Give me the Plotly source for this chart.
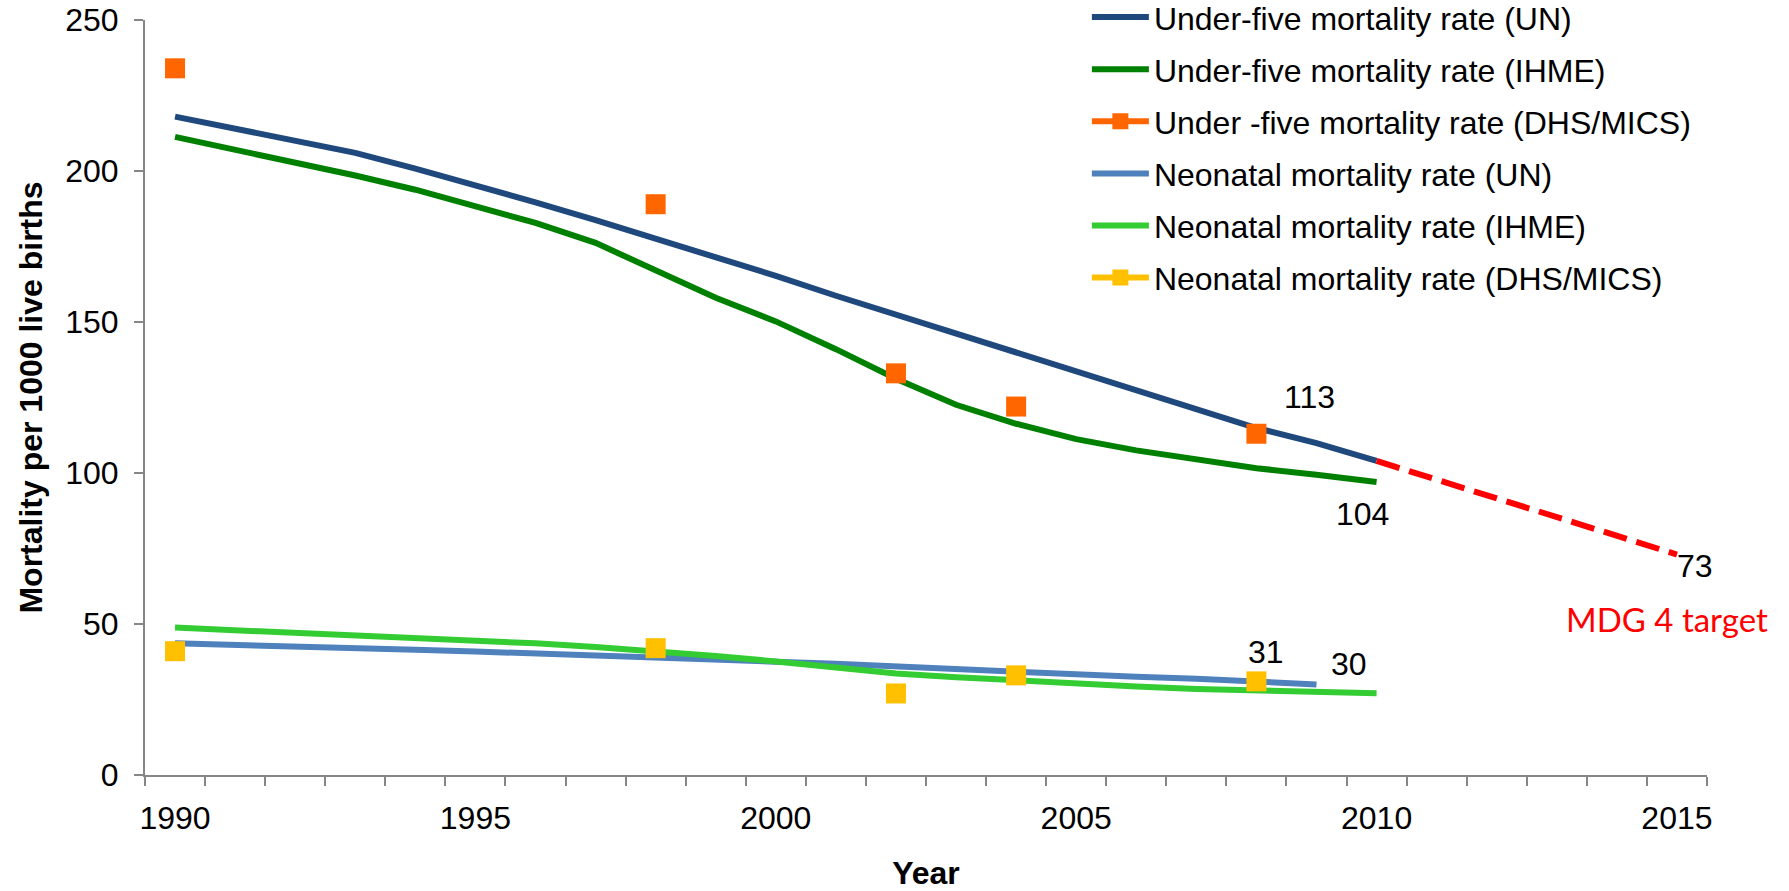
import plotly.graph_objects as go

# Years covered by the modelled series
years = list(range(1990, 2011))

# Under-five mortality per 1000 live births
u5_un = [218.0, 214.0, 210.4, 206.0, 200.8, 195.3, 189.6, 183.7, 177.6, 171.2, 165.3,
         158.7, 152.4, 146.3, 139.9, 133.6, 127.3, 121.2, 114.9, 109.9, 104.0]
u5_ihme = [211.3, 207.1, 202.9, 198.5, 193.8, 188.5, 182.8, 176.2, 167.3, 158.0, 150.2,
           141.0, 131.2, 122.6, 116.3, 111.2, 107.5, 104.4, 101.6, 99.4, 97.0]
# Survey estimates (None where no survey was run)
u5_dhs = [234, None, None, None, None, None, None, None, 189, None, None,
          None, 133, None, 122, None, None, None, 113, None, None]

# Neonatal mortality per 1000 live births
neo_un = [43.6, 43.2, 42.7, 42.2, 41.5, 40.9, 40.3, 39.6, 38.8, 38.2, 37.5,
          36.8, 35.9, 35.0, 34.1, 33.3, 32.5, 31.9, 31.1, 30.0, None]
neo_ihme = [48.8, 48.0, 47.2, 46.4, 45.5, 44.6, 43.6, 42.4, 41.0, 39.4, 37.6,
            35.6, 33.6, 32.4, 31.3, 30.2, 29.3, 28.5, 28.0, 27.5, 27.1]
neo_dhs = [41, None, None, None, None, None, None, None, 42, None, None,
           None, 27, None, 33, None, None, None, 31, None, None]

# MDG 4 trajectory from the 2010 level to the 2015 target
target_years = [2010, 2015]
target_vals = [104, 73]

x_labels = [1990, 1995, 2000, 2005, 2010, 2015]
y_ticks = [0, 50, 100, 150, 200, 250]

FONT = "Liberation Sans, Arial, sans-serif"
AXIS_GREY = "#868686"
LINE_W = 6

fig = go.Figure()

def line_trace(y, name, color, rank):
    return go.Scatter(x=years, y=y, name=name, mode="lines", legendrank=rank,
                      legendgroup=f"g{rank}",
                      line=dict(color=color, width=LINE_W))

def survey_trace(y, name, color, rank):
    return go.Scatter(x=years, y=y, name=name, mode="lines+markers", legendrank=rank,
                      legendgroup=f"g{rank}", connectgaps=False,
                      line=dict(color=color, width=LINE_W),
                      marker=dict(symbol="square", size=20, color=color))

fig.add_trace(line_trace(u5_un, "Under-five mortality rate (UN)", "#1F497D", 1))
fig.add_trace(line_trace(u5_ihme, "Under-five mortality rate (IHME)", "#008000", 2))
fig.add_trace(line_trace(neo_un, "Neonatal mortality rate (UN)", "#4F81BD", 4))
fig.add_trace(line_trace(neo_ihme, "Neonatal mortality rate (IHME)", "#33CC33", 5))
fig.add_trace(go.Scatter(x=target_years, y=target_vals, mode="lines", showlegend=False,
                         line=dict(color="#FF0000", width=LINE_W, dash="24px,10px")))
fig.add_trace(survey_trace(u5_dhs, "Under -five mortality rate (DHS/MICS)", "#FF6600", 3))
fig.add_trace(survey_trace(neo_dhs, "Neonatal mortality rate (DHS/MICS)", "#FFC000", 6))

# Value labels
lab = dict(showarrow=False, font=dict(family=FONT, size=32, color="black"))
fig.add_annotation(x=2008, y=u5_dhs[years.index(2008)], text=str(u5_dhs[years.index(2008)]),
                   xshift=53, yshift=37, **lab)
fig.add_annotation(x=2010, y=u5_un[-1], text=str(int(u5_un[-1])), xshift=-14, yshift=-53, **lab)
fig.add_annotation(x=target_years[-1], y=target_vals[-1], text=str(target_vals[-1]),
                   xshift=18, yshift=-11, **lab)
fig.add_annotation(x=2008, y=neo_dhs[years.index(2008)], text=str(neo_dhs[years.index(2008)]),
                   xshift=10, yshift=29, **lab)
fig.add_annotation(x=2009, y=neo_un[years.index(2009)], text=str(int(neo_un[years.index(2009)])),
                   xshift=32, yshift=20, **lab)
fig.add_annotation(x=target_years[-1], y=target_vals[-1], text="MDG 4 target", showarrow=False,
                   xshift=-10, yshift=-64,
                   font=dict(family="Lato, Carlito, Calibri, sans-serif", size=33, color="#FF0000"))

fig.update_layout(
    width=1789, height=891,
    margin=dict(l=145, r=82, t=20, b=116, autoexpand=False),
    paper_bgcolor="white", plot_bgcolor="white",
    font=dict(family=FONT, size=32, color="black"),
    legend=dict(x=0.603, y=1.040, xanchor="left", yanchor="top",
                traceorder="grouped", itemwidth=57, tracegroupgap=7.5,
                bgcolor="rgba(0,0,0,0)", font=dict(family=FONT, size=32)),
    showlegend=True,
)

fig.update_xaxes(
    range=[1989.5, 2015.5], tickmode="array", tickvals=x_labels,
    ticktext=[str(v) for v in x_labels], ticks="", showgrid=False, zeroline=False,
    showline=True, linecolor=AXIS_GREY, linewidth=2,
    tickfont=dict(family=FONT, size=32),
    minor=dict(ticks="outside", tickmode="array",
               tickvals=[y - 0.5 for y in range(1990, 2017)],
               ticklen=9, tickwidth=2, tickcolor=AXIS_GREY, showgrid=False),
    ticklabelstandoff=14,
    title=dict(text="<b>Year</b>", font=dict(family=FONT, size=32), standoff=36),
)
fig.update_yaxes(
    range=[0, 250], tickmode="array", tickvals=y_ticks, showgrid=False, zeroline=False,
    showline=True, linecolor=AXIS_GREY, linewidth=2,
    ticks="outside", ticklen=9, tickwidth=2, tickcolor=AXIS_GREY,
    tickfont=dict(family=FONT, size=32), ticklabelstandoff=9,
    title=dict(text="<b>Mortality per 1000 live births</b>", font=dict(family=FONT, size=32),
               standoff=13),
)

fig.write_html("out.html")
